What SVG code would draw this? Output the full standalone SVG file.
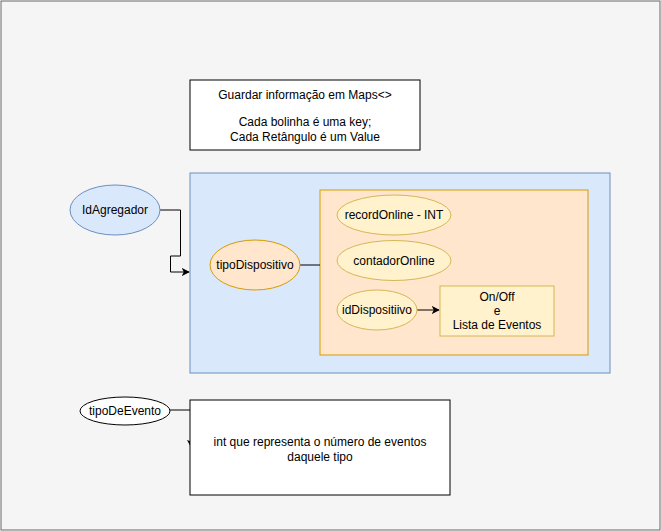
<svg xmlns="http://www.w3.org/2000/svg" width="661" height="531" viewBox="0 0 661 531">
<style>
text{font-family:"Liberation Sans",Arial,Helvetica,sans-serif;font-size:12px;fill:#000;text-anchor:middle;dominant-baseline:central}
.blue{fill:#dae8fc;stroke:#6c8ebf;stroke-width:1}
.orange{fill:#ffe6cc;stroke:#d79b00;stroke-width:1}
.yellow{fill:#fff2cc;stroke:#d6b656;stroke-width:1}
.plain{fill:#fff;stroke:#000;stroke-width:1}
.edge{fill:none;stroke:#000;stroke-width:1}
</style>
<defs>
<marker id="arr" viewBox="0 0 10 10" refX="9" refY="5" markerWidth="8" markerHeight="8" markerUnits="userSpaceOnUse" orient="auto">
<path d="M0,0 L10,5 L0,10 L2.5,5 Z" fill="#000"/>
</marker>
</defs>
<rect x="1" y="1" width="659" height="529" fill="#f5f5f5" stroke="#666" stroke-width="1"/>
<g id="note">
<rect x="190" y="80" width="230" height="70" class="plain"/>
<text x="305" y="95">Guardar informação em Maps&lt;&gt;</text>
<text x="305" y="122">Cada bolinha é uma key;</text>
<text x="305" y="137">Cada Retângulo é um Value</text>
</g>
<g id="container">
<rect x="190" y="173" width="420" height="200" class="blue"/>
</g>
<g id="valueBox">
<rect x="320" y="190" width="268" height="165" class="orange"/>
</g>
<g id="connectors">
<path d="M160,210 H180.5 V256 H170.5 V272 H189" class="edge" marker-end="url(#arr)"/>
<path d="M300,265 H320" class="edge"/>
<path d="M417,310 H439" class="edge" marker-end="url(#arr)"/>
<path d="M170,410 H191 V447" class="edge" marker-end="url(#arr)"/>
</g>
<g id="idAgregador">
<ellipse cx="115" cy="210" rx="45" ry="25" class="blue"/>
<text x="115" y="210">IdAgregador</text>
</g>
<g id="tipoDispositivo">
<ellipse cx="255" cy="265" rx="45" ry="25" class="orange"/>
<text x="255" y="265">tipoDispositivo</text>
</g>
<g id="recordOnline">
<ellipse cx="394" cy="215" rx="57" ry="20" class="yellow"/>
<text x="394" y="215">recordOnline - INT</text>
</g>
<g id="contadorOnline">
<ellipse cx="394" cy="260.5" rx="57" ry="20" class="yellow"/>
<text x="394" y="261">contadorOnline</text>
</g>
<g id="idDispositiivo">
<ellipse cx="377" cy="310" rx="40" ry="20" class="yellow"/>
<text x="377" y="310">idDispositiivo</text>
</g>
<g id="onOff">
<rect x="440" y="286" width="114" height="50" class="yellow"/>
<text x="497" y="297">On/Off</text>
<text x="497" y="311">e</text>
<text x="497" y="325">Lista de Eventos</text>
</g>
<g id="tipoDeEvento">
<ellipse cx="125" cy="411" rx="45" ry="14" class="plain"/>
<text x="125" y="411">tipoDeEvento</text>
</g>
<g id="eventCount">
<rect x="190" y="400" width="260" height="95" class="plain"/>
<text x="320" y="442">int que representa o número de eventos</text>
<text x="320" y="457">daquele tipo</text>
</g>
</svg>
